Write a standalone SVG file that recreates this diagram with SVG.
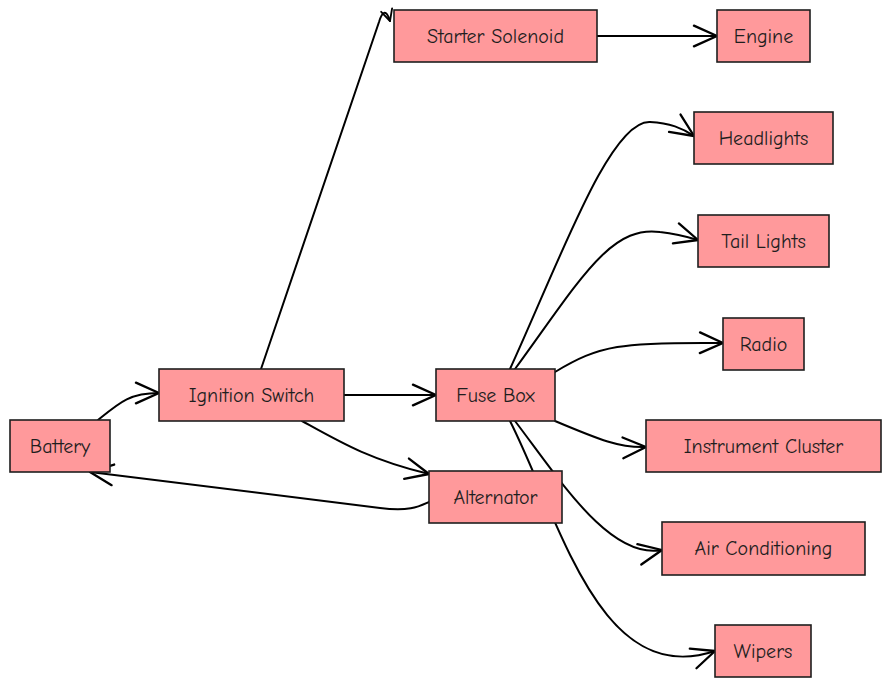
<svg xmlns="http://www.w3.org/2000/svg" width="891" height="688" viewBox="0 0 891 688">
<style>
.n rect{fill:#ff999b;stroke:#1e1e1e;stroke-width:1.6}
.n text{font-family:"Comic Neue","Liberation Sans",sans-serif;font-size:20px;fill:#1e1e1e;text-anchor:middle;dominant-baseline:central}
#edges path{fill:none;stroke:#000;stroke-width:2;stroke-linecap:round;marker-end:url(#ah)}
#edges path.s{marker-end:url(#ahs)}
</style>
<defs>
<marker id="ah" markerUnits="userSpaceOnUse" markerWidth="30" markerHeight="30" viewBox="-22 -12 26 24" refX="0" refY="0" orient="auto">
<path d="M-20,-9 L0,0 L-20,9" fill="none" stroke="#000" stroke-width="2" stroke-linecap="round" stroke-linejoin="round"/>
</marker>
<marker id="ahs" markerUnits="userSpaceOnUse" markerWidth="16" markerHeight="16" viewBox="-12 -7 14 14" refX="0" refY="0" orient="auto">
<path d="M-10,-5 L0,0 L-10,5" fill="none" stroke="#000" stroke-width="1.6" stroke-linecap="round" stroke-linejoin="round"/>
</marker>
</defs>
<rect width="891" height="688" fill="#fff"/>
<g id="edges">
<path d="M98,420 C120,402 130,393 159,393"/>
<path class="s" d="M261,369 L379,22 C382,12 386,8 390,21"/>
<path d="M597,36 L717,36"/>
<path d="M344,395 L436,395"/>
<path d="M302,421 C340,442 370,460 429,474"/>
<path d="M429,502 C420,506 410,512 380,508 L90,472"/>
<path d="M510,369 C560,260 610,120 650,122 C670,123 682,128 694,136"/>
<path d="M515,369 C580,280 610,225 660,232 C678,234 688,237 698,240"/>
<path d="M555,372 C600,345 620,342 723,343"/>
<path d="M555,421 C600,440 620,448 646,447"/>
<path d="M515,421 C560,480 610,560 662,550"/>
<path d="M510,421 C560,520 600,690 715,651"/>
</g>
<g id="battery" class="n"><rect x="10" y="420" width="100" height="52"/><text x="60" y="446">Battery</text></g>
<g id="ignition" class="n"><rect x="159" y="369" width="185" height="52"/><text x="251.5" y="395">Ignition Switch</text></g>
<g id="starter" class="n"><rect x="394" y="10" width="203" height="52"/><text x="495.5" y="36">Starter Solenoid</text></g>
<g id="engine" class="n"><rect x="717" y="10" width="93" height="52"/><text x="763.5" y="36">Engine</text></g>
<g id="fusebox" class="n"><rect x="436" y="369" width="119" height="52"/><text x="495.5" y="395">Fuse Box</text></g>
<g id="alternator" class="n"><rect x="429" y="471" width="133" height="52"/><text x="495.5" y="497">Alternator</text></g>
<g id="headlights" class="n"><rect x="694" y="112" width="139" height="52"/><text x="763.5" y="138">Headlights</text></g>
<g id="taillights" class="n"><rect x="698" y="215" width="131" height="52"/><text x="763.5" y="241">Tail Lights</text></g>
<g id="radio" class="n"><rect x="723" y="318" width="81" height="52"/><text x="763.5" y="344">Radio</text></g>
<g id="cluster" class="n"><rect x="646" y="420" width="235" height="52"/><text x="763.5" y="446">Instrument Cluster</text></g>
<g id="ac" class="n"><rect x="662" y="522" width="203" height="53"/><text x="763.5" y="548.5">Air Conditioning</text></g>
<g id="wipers" class="n"><rect x="715" y="625" width="96" height="52"/><text x="763" y="651">Wipers</text></g>
</svg>
